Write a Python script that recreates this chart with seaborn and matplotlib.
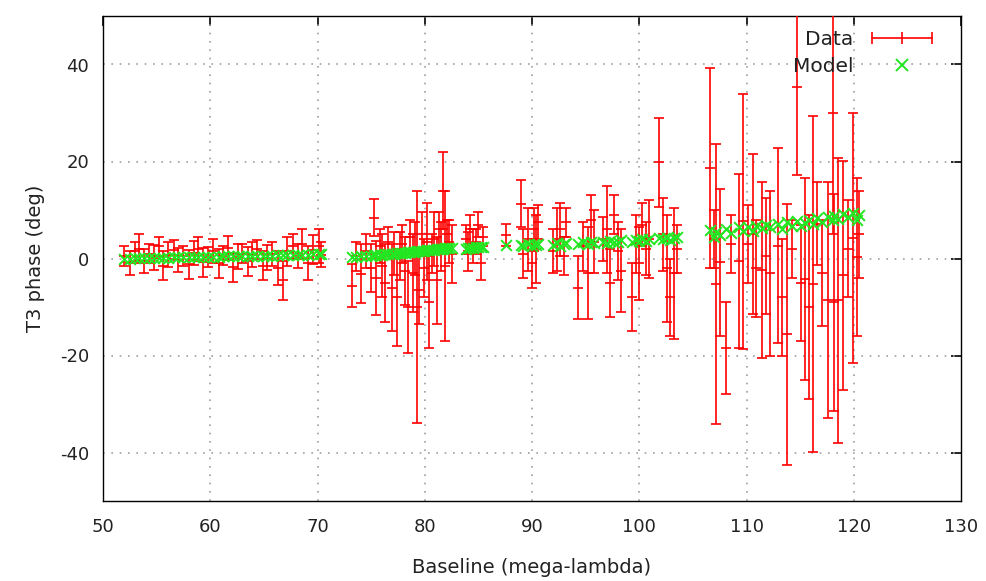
import numpy as np
import pandas as pd
import matplotlib
matplotlib.use("Agg")
import matplotlib.pyplot as plt
import seaborn as sns
from matplotlib.lines import Line2D
from matplotlib.legend_handler import HandlerLine2D

# ---- data ----
xa = [52.0, 52.5, 53.0, 53.4, 53.8, 54.3, 54.8, 55.2, 55.6, 56.1, 56.6, 57.0, 57.5, 58.0,
      58.5, 58.9, 59.3, 59.8, 60.3, 60.8, 61.2, 61.7, 62.1, 62.6, 63.0, 63.5, 63.9, 64.4,
      64.9, 65.3, 65.8, 66.3, 66.8, 67.2, 67.7, 68.2, 68.6, 69.1, 69.6, 70.1, 70.3]
ya = [0.5, -1.0, 1.5, 2.0, -0.5, 1.0, 0.2, 2.5, -1.5, 0.8, 1.8, -0.3, 0.5, -1.2,
      1.2, 2.0, -0.8, 0.3, 1.5, -1.0, 0.6, 2.2, -1.8, 0.4, 1.0, -0.6, 0.8, 1.9,
      -1.5, 0.2, 1.0, -2.0, -4.5, 1.5, 2.5, 0.5, 3.0, -1.0, 1.8, 2.5, 0.8]
ea = [2.0, 2.5, 2.0, 3.0, 2.5, 2.0, 2.5, 2.0, 3.0, 2.5, 2.0, 2.5, 2.0, 3.0,
      2.5, 2.5, 3.0, 2.0, 2.5, 3.0, 2.0, 2.5, 3.0, 2.5, 2.0, 3.0, 2.5, 2.0,
      3.0, 2.5, 2.5, 3.5, 4.0, 3.0, 2.5, 2.5, 3.0, 3.5, 3.0, 3.5, 2.5]
ma = [0.0, 0.0, 0.1, 0.1, 0.1, 0.1, 0.2, 0.2, 0.2, 0.2, 0.3, 0.3, 0.3, 0.3,
      0.3, 0.4, 0.4, 0.4, 0.4, 0.4, 0.5, 0.5, 0.5, 0.5, 0.5, 0.5, 0.6, 0.6,
      0.6, 0.6, 0.6, 0.7, 0.7, 0.7, 0.7, 0.8, 0.8, 0.8, 0.9, 0.9, 1.0]

xb = [73.2, 73.6, 74.1, 74.5, 75.0, 75.3, 75.5, 75.8, 76.0, 76.3, 76.6, 76.9, 77.1, 77.4,
      77.7, 77.9, 78.2, 78.4, 78.6, 78.9, 79.1, 79.3, 79.5, 79.7, 79.9, 80.2, 80.4, 80.7,
      80.9, 81.1, 81.3, 81.5, 81.7, 81.9, 82.1, 82.3, 82.5]
yb = [-5.6, 0.5, -3.1, 1.5, -2.0, 8.4, -4.0, 2.5, -1.5, -5.0, 3.5, -6.0, 1.0, -8.0,
      0.5, 3.0, -2.5, -10.0, 4.5, -3.0, 2.0, -10.0, -6.5, 5.0, -2.0, 3.5, -9.0, 1.0,
      4.0, -4.5, 6.0, 2.5, 14.0, -1.5, 5.0, 3.5, 1.0]
eb = [4.5, 3.0, 6.0, 3.5, 5.0, 3.8, 7.7, 3.5, 6.5, 8.0, 3.0, 9.0, 4.5, 10.0,
      5.0, 4.0, 7.0, 9.5, 3.5, 8.0, 5.5, 24.0, 7.0, 4.5, 6.0, 8.0, 9.5, 4.0,
      5.5, 9.0, 3.5, 5.0, 8.0, 15.5, 3.0, 4.5, 6.0]
mb = [0.3, 0.4, 0.5, 0.5, 0.6, 0.7, 0.7, 0.8, 0.8, 0.9, 0.9, 1.0, 1.0, 1.1,
      1.1, 1.2, 1.2, 1.3, 1.3, 1.4, 1.4, 1.5, 1.5, 1.6, 1.6, 1.7, 1.7, 1.8,
      1.8, 1.9, 1.9, 2.0, 2.0, 2.1, 2.1, 2.2, 2.2]

xc = [83.8, 84.0, 84.2, 84.5, 84.8, 85.0, 85.2, 85.4]
yc = [4.0, 1.5, 6.0, 2.5, 3.5, 7.0, -1.0, 4.5]
ec = [3.0, 4.0, 3.0, 3.5, 2.5, 2.5, 3.5, 2.0]
mc = [2.0, 2.1, 2.1, 2.2, 2.3, 2.3, 2.4, 2.4]

xd = [87.6, 89.0, 89.2, 89.6, 90.0, 90.2, 90.4, 90.6, 92.0, 92.3, 92.6, 93.0, 93.2,
      94.3, 94.8, 95.2, 95.5, 95.8, 96.6, 97.0, 97.3, 97.6, 98.0, 98.3, 99.3, 99.7,
      100.0, 100.3, 100.6, 100.9, 101.8, 102.2, 102.6, 102.9, 103.2, 103.5]
yd = [4.9, 11.3, 1.0, 4.0, -1.0, 6.0, 2.0, 7.5, 1.5, 4.0, 6.0, 0.5, 7.5,
      -6.0, 2.5, -3.0, 8.0, 3.5, 4.0, 6.0, -5.0, 9.0, 1.5, -2.5, -8.0, 3.0,
      -1.0, 7.0, 2.0, 4.0, 19.8, 5.0, -2.0, -8.0, -3.0, 2.0]
ed = [2.3, 4.8, 5.0, 6.5, 5.0, 4.5, 7.0, 3.5, 4.5, 6.5, 5.5, 4.0, 3.0,
      6.5, 5.0, 9.5, 5.0, 6.5, 4.5, 9.0, 7.0, 4.0, 6.0, 8.5, 7.0, 6.0,
      7.5, 4.5, 5.5, 8.0, 9.2, 7.5, 11.0, 8.0, 13.5, 5.0]
md = [2.7, 2.8, 2.6, 2.9, 2.5, 3.0, 2.7, 2.9, 2.8, 3.1, 2.6, 3.0, 3.2,
      3.0, 3.3, 2.9, 3.4, 3.1, 3.5, 3.2, 3.6, 3.3, 3.5, 3.8, 3.4, 3.9,
      3.6, 4.0, 3.7, 4.1, 4.2, 4.0, 4.3, 3.9, 4.2, 4.4]

xe = [106.6, 107.0, 107.2, 107.5, 108.1, 108.6, 109.3, 109.7, 110.1, 110.6, 110.9,
      111.4, 111.8, 112.2, 112.9, 113.3, 113.8, 114.2, 114.7, 115.1, 115.5, 115.8,
      116.2, 116.6, 117.0, 117.6, 118.1, 118.2, 118.5, 119.0, 119.5, 119.9, 120.3, 120.5]
ye = [18.6, 4.0, -5.2, -0.8, -18.4, 3.0, -0.5, 7.7, 3.0, 5.0, -2.0,
      -2.4, 0.5, -3.0, 2.6, -8.0, -15.6, 2.0, 35.3, -5.0, -4.2, -10.0,
      -5.2, 7.2, -3.0, -8.5, 30.0, -9.0, -8.6, -3.5, 2.0, 4.2, 0.4, 5.0]
ee = [20.6, 6.0, 28.9, 15.2, 9.5, 6.0, 18.0, 26.3, 8.0, 16.5, 10.0,
      18.1, 12.0, 17.0, 20.1, 12.0, 26.9, 6.0, 18.0, 12.0, 20.9, 19.0,
      34.6, 8.5, 11.0, 24.3, 25.0, 22.4, 29.4, 23.7, 10.0, 25.8, 16.3, 9.0]
me = [5.8, 4.5, 5.5, 4.9, 6.0, 5.2, 6.4, 5.6, 6.5, 5.7, 6.8,
      6.2, 7.0, 6.4, 7.2, 6.1, 7.5, 6.6, 7.8, 6.8, 7.4, 8.0,
      7.2, 8.3, 7.6, 8.6, 7.9, 8.8, 8.2, 9.2, 8.5, 9.4, 8.0, 9.0]

baseline = xa + xb + xc + xd + xe
t3phi = ya + yb + yc + yd + ye
t3err = ea + eb + ec + ed + ee
model = ma + mb + mc + md + me

df = pd.DataFrame({"baseline": baseline, "t3phi": t3phi, "err": t3err, "model": model})

xticks = [50, 60, 70, 80, 90, 100, 110, 120, 130]
yticks = [-40, -20, 0, 20, 40]

# ---- styling ----
sns.set_theme(style="white")
plt.rcParams["font.family"] = ["DejaVu Sans"]
plt.rcParams["axes.unicode_minus"] = False
RED = "#ff0000"
GREEN = "#22e622"
TXT = "#222222"

fig = plt.figure(figsize=(9.86, 5.81), dpi=100)
ax = fig.add_axes([103 / 986, 1 - 501 / 581, (961 - 103) / 986, (501 - 16) / 581])

ax.errorbar(df["baseline"], df["t3phi"], yerr=df["err"], fmt="none",
            ecolor=RED, elinewidth=1.2, capsize=3.8, capthick=1.2, zorder=3)
sns.scatterplot(data=df, x="baseline", y="t3phi", marker="_", s=60, color=RED,
                linewidth=1.2, ax=ax, zorder=4, legend=False)
sns.scatterplot(data=df, x="baseline", y="model", marker="x", s=60, color=GREEN,
                linewidth=1.4, ax=ax, zorder=5, legend=False)

ax.set_xlim(50, 130)
ax.set_ylim(-50, 50)
ax.set_xticks(xticks)
ax.set_yticks(yticks)
ax.tick_params(axis="both", direction="in", length=7, width=1.2, color="black",
               top=True, right=True, labelsize=13, labelcolor=TXT)
ax.tick_params(axis="x", pad=12)
ax.tick_params(axis="y", pad=10)
for s in ax.spines.values():
    s.set_color("black")
    s.set_linewidth(1.0)

for v in xticks[1:-1]:
    ax.axvline(v, color="#a0a0a0", lw=1.2, ls=(0, (1, 4)), zorder=1)
for v in yticks:
    ax.axhline(v, color="#a0a0a0", lw=1.2, ls=(0, (1, 4)), zorder=1)

ax.set_xlabel("Baseline (mega-lambda)", fontsize=14, color=TXT, labelpad=16)
ax.set_ylabel("T3 phase (deg)", fontsize=14, color=TXT, labelpad=11)

h_data = Line2D([], [], color=RED, lw=1.2, marker="|", markersize=9, markeredgewidth=1.2)
h_model = Line2D([], [], color=GREEN, lw=0, marker="x", markersize=8, markeredgewidth=1.4)
leg = ax.legend([h_data, h_model], ["Data", "Model"], loc="upper right",
                frameon=False, markerfirst=False, handlelength=3.6,
                fontsize=14.5, labelspacing=0.4, borderaxespad=0.3,
                handletextpad=0.6, bbox_to_anchor=(0.99, 1.0),
                handler_map={h_data: HandlerLine2D(numpoints=3),
                             h_model: HandlerLine2D(numpoints=1)})
for t in leg.get_texts():
    t.set_color(TXT)

fig.savefig("out.png", dpi=100)
